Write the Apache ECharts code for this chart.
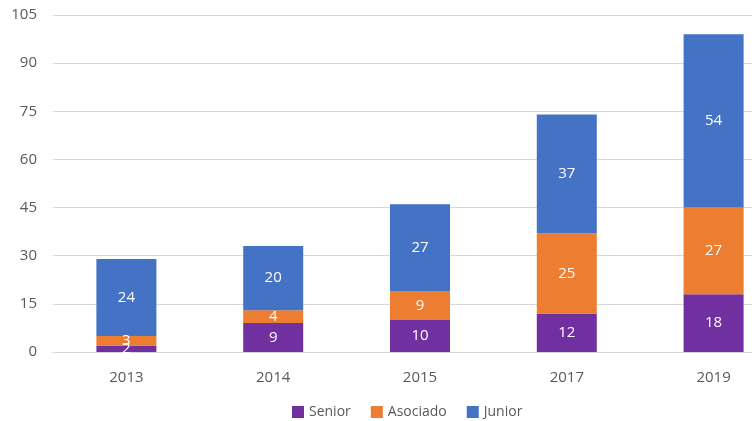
<!DOCTYPE html>
<html>
<head>
<meta charset="utf-8">
<script src="https://cdn.jsdelivr.net/npm/echarts@6/dist/echarts.min.js"></script>
<style>
  html, body { margin: 0; padding: 0; background: #fff; overflow: hidden; }
  #chart { width: 752px; height: 421px; }
</style>
</head>
<body>
<div id="chart"></div>
<script>
// datos
const years = ['2013', '2014', '2015', '2017', '2019'];
const senior = [2, 9, 10, 12, 18];
const asociado = [3, 4, 9, 25, 27];
const junior = [24, 20, 27, 37, 54];

const myChart = echarts.init(document.getElementById('chart'));

const labelStyle = {
    show: true,
    color: '#fff',
    fontSize: 15,
    fontFamily: 'Open Sans, sans-serif'
};

myChart.setOption({
    animation: false,
    textStyle: { fontFamily: 'Open Sans, sans-serif' },
    // el area del grafico sigue mas alla del borde derecho
    grid: { left: 53, width: 734, top: 15, bottom: 69, outerBoundsMode: 'none', containLabel: false },
    legend: {
        left: 287,
        bottom: -3,
        itemWidth: 12,
        itemHeight: 12,
        itemGap: 20,
        icon: 'rect',
        textStyle: { color: '#595959', fontSize: 14 },
        data: ['Senior', 'Asociado', 'Junior']
    },
    xAxis: {
        type: 'category',
        data: years,
        axisTick: { show: false },
        axisLine: { lineStyle: { color: '#d9d9d9' } },
        axisLabel: { color: '#595959', fontSize: 15, margin: 18 }
    },
    yAxis: {
        type: 'value',
        min: 0,
        max: 105,
        interval: 15,
        axisLabel: { color: '#595959', fontSize: 15, margin: 16 },
        splitLine: { lineStyle: { color: '#d9d9d9' } }
    },
    series: [
        {
            name: 'Senior', type: 'bar', stack: 'total', barWidth: 60,
            itemStyle: { color: '#7030A0' },
            label: labelStyle,
            data: senior
        },
        {
            name: 'Asociado', type: 'bar', stack: 'total',
            itemStyle: { color: '#ED7D31' },
            label: labelStyle,
            data: asociado
        },
        {
            name: 'Junior', type: 'bar', stack: 'total',
            itemStyle: { color: '#4472C4' },
            label: labelStyle,
            data: junior
        }
    ]
});
</script>
</body>
</html>
